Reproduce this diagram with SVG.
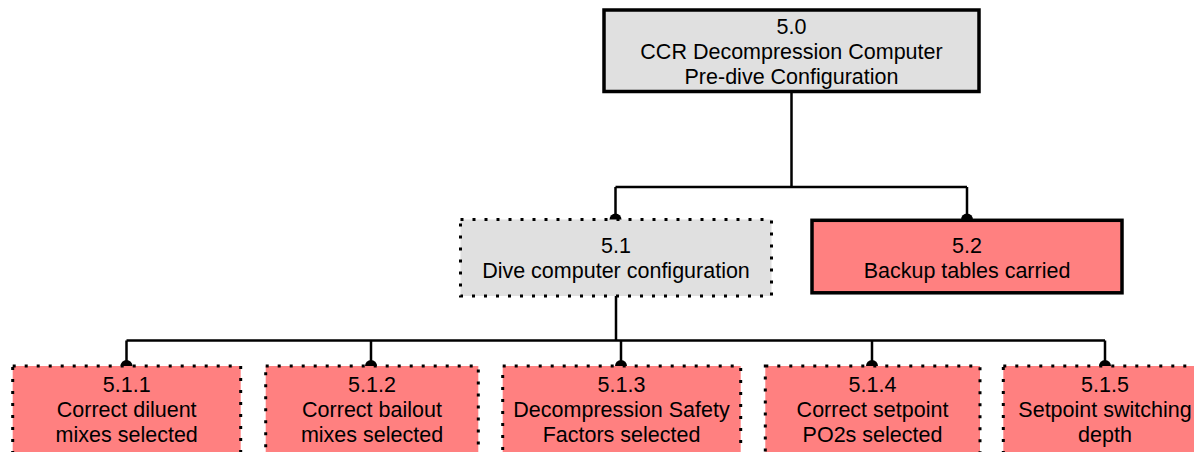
<svg xmlns="http://www.w3.org/2000/svg" width="1194" height="452" viewBox="0 0 1194 452">
  <style>
    .label { font-family: "Liberation Sans", Arial, sans-serif; font-size: 21.5px; fill: #000; text-anchor: middle; }
    .solid { stroke: #000; stroke-width: 3.5; }
    .dotted { stroke: #000; stroke-width: 3; stroke-dasharray: 3 9; }
    .grey { fill: #e0e0e0; }
    .red { fill: #ff8080; }
    .wire { fill: none; stroke: #000; stroke-width: 2.5; }
    .dot { fill: #000; }
  </style>
  <rect width="1194" height="452" fill="#fff"/>

  <!-- tree connectors, drawn beneath the boxes -->
  <g id="connectors">
    <path class="wire" d="M791.5 93 V187 M615.5 187 H967 M615.5 187 V219 M967 187 V219"/>
    <path class="wire" d="M616 296 V340.5 M126.5 340.5 H1105 M126.5 340.5 V366 M371 340.5 V366 M621 340.5 V366 M872 340.5 V366 M1105 340.5 V366"/>
    <circle class="dot" cx="615.5" cy="219.5" r="6"/>
    <circle class="dot" cx="967" cy="219.5" r="6"/>
    <circle class="dot" cx="126.5" cy="366" r="6"/>
    <circle class="dot" cx="371" cy="366" r="6"/>
    <circle class="dot" cx="621" cy="366" r="6"/>
    <circle class="dot" cx="872" cy="366" r="6"/>
    <circle class="dot" cx="1105" cy="366" r="6"/>
  </g>

  <g id="node-5-0">
    <rect class="grey solid" x="604" y="10" width="375" height="81.5"/>
    <text class="label" x="791.5" y="34">5.0</text>
    <text class="label" x="791.5" y="59">CCR Decompression Computer</text>
    <text class="label" x="791.5" y="84">Pre-dive Configuration</text>
  </g>

  <g id="node-5-1">
    <rect class="grey dotted" x="460.5" y="219.5" width="311" height="76.5"/>
    <text class="label" x="616" y="252.5">5.1</text>
    <text class="label" x="616" y="277.5">Dive computer configuration</text>
  </g>

  <g id="node-5-2">
    <rect class="red solid" x="812" y="220.3" width="310" height="72.5"/>
    <text class="label" x="967" y="252.5">5.2</text>
    <text class="label" x="967" y="277.5">Backup tables carried</text>
  </g>

  <g id="node-5-1-1">
    <rect class="red dotted" x="12.7" y="366" width="228" height="92"/>
    <text class="label" x="126.7" y="392">5.1.1</text>
    <text class="label" x="126.7" y="417">Correct diluent</text>
    <text class="label" x="126.7" y="442">mixes selected</text>
  </g>

  <g id="node-5-1-2">
    <rect class="red dotted" x="265.7" y="366" width="212.6" height="92"/>
    <text class="label" x="372" y="392">5.1.2</text>
    <text class="label" x="372" y="417">Correct bailout</text>
    <text class="label" x="372" y="442">mixes selected</text>
  </g>

  <g id="node-5-1-3">
    <rect class="red dotted" x="502.7" y="366" width="238" height="92"/>
    <text class="label" x="621.5" y="392">5.1.3</text>
    <text class="label" x="621.5" y="417">Decompression Safety</text>
    <text class="label" x="621.5" y="442">Factors selected</text>
  </g>

  <g id="node-5-1-4">
    <rect class="red dotted" x="765.3" y="366" width="214.7" height="92"/>
    <text class="label" x="872.5" y="392">5.1.4</text>
    <text class="label" x="872.5" y="417">Correct setpoint</text>
    <text class="label" x="872.5" y="442">PO2s selected</text>
  </g>

  <g id="node-5-1-5">
    <rect class="red dotted" x="1003.3" y="366" width="204" height="92"/>
    <text class="label" x="1105" y="392">5.1.5</text>
    <text class="label" x="1105" y="417">Setpoint switching</text>
    <text class="label" x="1105" y="442">depth</text>
  </g>
</svg>
